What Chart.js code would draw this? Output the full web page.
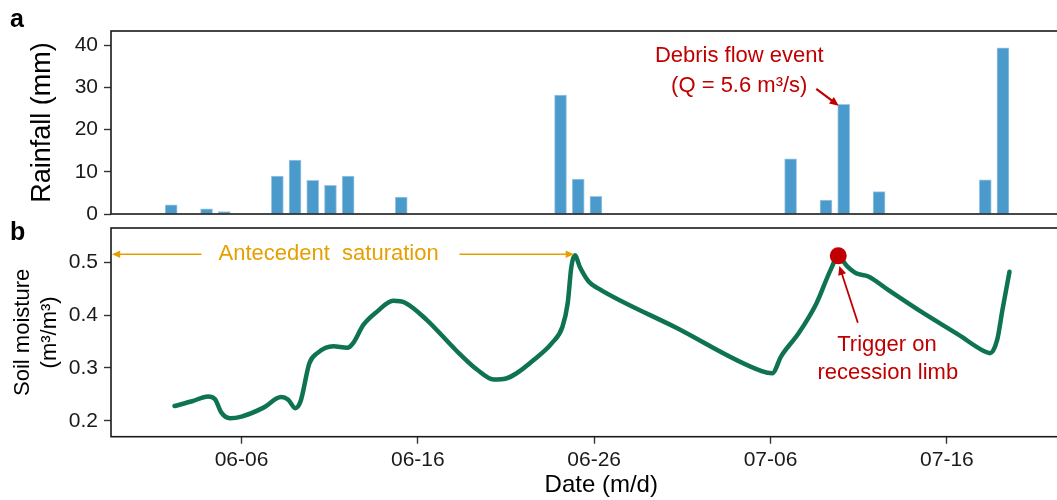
<!DOCTYPE html>
<html>
<head>
<meta charset="utf-8">
<script src="https://cdn.jsdelivr.net/npm/chart.js@4.4.1/dist/chart.umd.min.js"></script>
<style>
  html, body { margin: 0; padding: 0; background: #fff; overflow: hidden; }
  #wrap { position: relative; width: 1100px; height: 500px; }
  #rainChart { position: absolute; left: 0; top: 0; }
  #soilChart { position: absolute; left: 0; top: 200px; }
</style>
</head>
<body>
<div id="wrap">
  <canvas id="rainChart" width="1100" height="240"></canvas>
  <canvas id="soilChart" width="1100" height="300"></canvas>
</div>
<script>
// -- values --
const rainDates = ['06-02','06-04','06-05','06-08','06-09','06-10','06-11','06-12','06-15',
                   '06-24','06-25','06-26','07-07','07-09','07-10','07-12','07-18','07-19'];
const rainMm    = [2.2, 1.25, 0.6, 9.0, 12.8, 8.0, 6.8, 9.0, 4.0,
                   28.2, 8.3, 4.2, 13.1, 3.3, 26.0, 5.3, 8.1, 39.4];

// soil moisture, time in days since 06-01
const soilDay = [1.2, 2.2, 3.1, 3.5, 3.85, 4.35, 5.0, 6.25, 7.25, 7.65, 8.05, 8.35, 8.85, 9.3,
                 10.2, 11.0, 11.35, 11.9, 12.7, 13.6, 14.3, 15.5, 17.15, 18.35, 19.3, 20.0,
                 20.6, 21.6, 22.6, 23.2, 23.5, 23.7, 23.9, 24.2, 24.7, 25.2, 29.6, 34.5, 35.1,
                 35.6, 36.6, 37.6, 38.4, 38.84, 39.35, 39.85, 40.55, 41.65, 43.65, 45.65, 47.15,
                 47.45, 47.85, 48.15, 48.55];
const soilVwc = [0.228, 0.237, 0.246, 0.241, 0.216, 0.205, 0.208, 0.225, 0.245, 0.240, 0.224, 0.237, 0.309, 0.328,
                 0.341, 0.338, 0.348, 0.381, 0.407, 0.427, 0.423, 0.391, 0.334, 0.297, 0.278, 0.280,
                 0.290, 0.316, 0.347, 0.378, 0.423, 0.490, 0.513, 0.490, 0.463, 0.451, 0.377, 0.294, 0.290,
                 0.322, 0.366, 0.422, 0.485, 0.511, 0.492, 0.479, 0.473, 0.448, 0.404, 0.363, 0.331,
                 0.328, 0.353, 0.410, 0.482];

const triggerDay = [38.84];
const triggerVwc = [0.512];

const tickLabels = ['06-06', '06-16', '06-26', '07-06', '07-16'];
const rainTicks  = [0, 10, 20, 30, 40];
const soilTicks  = [0.2, 0.3, 0.4, 0.5];

// shared x range (days since 06-01)
const X_MIN = -2.4, X_MAX = 53.2;

function dayOf(md) {
    const [m, d] = md.split('-').map(Number);
    return (m === 7 ? 30 : 0) + d - 1;
}

Chart.defaults.font.family = "'Liberation Sans', Arial, sans-serif";
Chart.defaults.color = '#1a1a1a';

const INK = '#1a1a1a';
const RED = '#C00000';
const ORANGE = '#E69F00';

// ggplot-like panel border
const framePlugin = {
    id: 'frame',
    afterDatasetsDraw(chart) {
        const { ctx, chartArea: a } = chart;
        ctx.save();
        ctx.strokeStyle = INK;
        ctx.lineWidth = 1.6;
        ctx.strokeRect(a.left, a.top, a.right - a.left, a.bottom - a.top);
        ctx.restore();
    }
};

function arrow(ctx, x1, y1, x2, y2, color, width, head) {
    const ang = Math.atan2(y2 - y1, x2 - x1);
    ctx.save();
    ctx.strokeStyle = color;
    ctx.fillStyle = color;
    ctx.lineWidth = width;
    ctx.beginPath();
    ctx.moveTo(x1, y1);
    ctx.lineTo(x2 - head * 0.8 * Math.cos(ang), y2 - head * 0.8 * Math.sin(ang));
    ctx.stroke();
    ctx.beginPath();
    ctx.moveTo(x2, y2);
    ctx.lineTo(x2 - head * Math.cos(ang - 0.42), y2 - head * Math.sin(ang - 0.42));
    ctx.lineTo(x2 - head * Math.cos(ang + 0.42), y2 - head * Math.sin(ang + 0.42));
    ctx.closePath();
    ctx.fill();
    ctx.restore();
}

function text(ctx, str, x, y, color, font, align) {
    ctx.save();
    ctx.fillStyle = color;
    ctx.font = font;
    ctx.textAlign = align || 'center';
    ctx.textBaseline = 'middle';
    ctx.fillText(str, x, y);
    ctx.restore();
}

const rainNotes = {
    id: 'rainNotes',
    afterDraw(chart) {
        const { ctx, scales: { x, y } } = chart;
        const f = "22px 'Liberation Sans', Arial, sans-serif";
        text(ctx, 'a', 10, 20, '#000', "bold 25px 'Liberation Sans', Arial, sans-serif", 'left');
        text(ctx, 'Debris flow event', x.getPixelForValue(33.1), y.getPixelForValue(37.6), RED, f);
        text(ctx, '(Q = 5.6 m\u00B3/s)', x.getPixelForValue(33.1), y.getPixelForValue(30.4), RED, f);
        // arrow points at the 07-10 bar
        arrow(ctx, x.getPixelForValue(37.45), y.getPixelForValue(29.7),
                   x.getPixelForValue(38.72), y.getPixelForValue(25.7), RED, 2.2, 10);
    }
};

const soilNotes = {
    id: 'soilNotes',
    afterDraw(chart) {
        const { ctx, chartArea: a, scales: { x, y } } = chart;
        const f = "22px 'Liberation Sans', Arial, sans-serif";
        text(ctx, 'b', 10, 33, '#000', "bold 25px 'Liberation Sans', Arial, sans-serif", 'left');

        const yA = y.getPixelForValue(0.515);
        text(ctx, 'Antecedent  saturation', x.getPixelForValue(9.94), yA, ORANGE, f);
        arrow(ctx, x.getPixelForValue(2.73), yA, a.left + 1, yA, ORANGE, 1.6, 9);
        arrow(ctx, x.getPixelForValue(17.36), yA, x.getPixelForValue(23.85), yA, ORANGE, 1.6, 9);

        arrow(ctx, x.getPixelForValue(39.95), y.getPixelForValue(0.3855),
                   x.getPixelForValue(38.9), y.getPixelForValue(0.493), RED, 1.8, 10);
        text(ctx, 'Trigger on', x.getPixelForValue(41.6), y.getPixelForValue(0.344), RED, f);
        text(ctx, 'recession limb', x.getPixelForValue(41.65), y.getPixelForValue(0.291), RED, f);
    }
};

const tickGrid = { drawOnChartArea: false, tickLength: 7, tickColor: '#333', tickWidth: 1.4 };

new Chart(document.getElementById('rainChart'), {
    type: 'bar',
    data: {
        datasets: [{
            data: rainDates.map((d, i) => ({ x: dayOf(d), y: rainMm[i] })),
            backgroundColor: '#4A9ACB',
            borderColor: '#9DC7E5',
            borderWidth: 1,
            borderSkipped: 'bottom',
            barThickness: 12
        }]
    },
    options: {
        responsive: false,
        animation: false,
        layout: { padding: { top: 31, right: 5, bottom: 26, left: 0 } },
        plugins: { legend: { display: false }, tooltip: { enabled: false } },
        scales: {
            x: { type: 'linear', min: X_MIN, max: X_MAX, offset: false, display: false,
                 grid: { offset: false } },
            y: {
                min: 0, max: 43.4,
                afterBuildTicks: s => { s.ticks = rainTicks.map(v => ({ value: v })); },
                afterFit: s => { s.width = 111; },
                grid: tickGrid,
                border: { display: false },
                ticks: { padding: 6, font: { size: 21 }, color: INK },
                title: { display: true, text: 'Rainfall (mm)', color: '#000',
                         font: { size: 27 }, padding: { top: 26, bottom: 0 } }
            }
        }
    },
    plugins: [framePlugin, rainNotes]
});

new Chart(document.getElementById('soilChart'), {
    type: 'line',
    data: {
        datasets: [
            { data: triggerDay.map((d, i) => ({ x: d, y: triggerVwc[i] })),
              showLine: false, pointRadius: 8.5, pointBackgroundColor: RED, pointBorderWidth: 0 },
            { data: soilDay.map((d, i) => ({ x: d, y: soilVwc[i] })),
              borderColor: '#0E7350', borderWidth: 4.5, pointRadius: 0,
              cubicInterpolationMode: 'monotone', fill: false, borderCapStyle: 'round', borderJoinStyle: 'round' }
        ]
    },
    options: {
        responsive: false,
        animation: false,
        layout: { padding: { top: 28, right: 5, bottom: 0, left: 0 } },
        plugins: { legend: { display: false }, tooltip: { enabled: false } },
        scales: {
            x: {
                type: 'linear', min: X_MIN, max: X_MAX,
                afterBuildTicks: s => { s.ticks = tickLabels.map(l => ({ value: dayOf(l) })); },
                afterFit: s => { s.height = 63.3; },
                grid: tickGrid,
                border: { display: false },
                ticks: { padding: 4, font: { size: 21 }, color: INK, autoSkip: false, maxRotation: 0,
                         callback: (v, i) => tickLabels[i] },
                title: { display: true, text: 'Date (m/d)', color: '#000',
                         font: { size: 24 }, padding: { top: 0, bottom: 0 } }
            },
            y: {
                min: 0.17, max: 0.5647,
                afterBuildTicks: s => { s.ticks = soilTicks.map(v => ({ value: v })); },
                afterFit: s => { s.width = 111; },
                grid: tickGrid,
                border: { display: false },
                ticks: { padding: 6, font: { size: 21 }, color: INK, callback: v => v.toFixed(1) },
                title: { display: true, text: ['Soil moisture', '(m\u00B3/m\u00B3)'], color: '#000',
                         font: { size: 22, lineHeight: 1.25 }, padding: { top: 9, bottom: 0 } }
            }
        }
    },
    plugins: [framePlugin, soilNotes]
});
</script>
</body>
</html>
